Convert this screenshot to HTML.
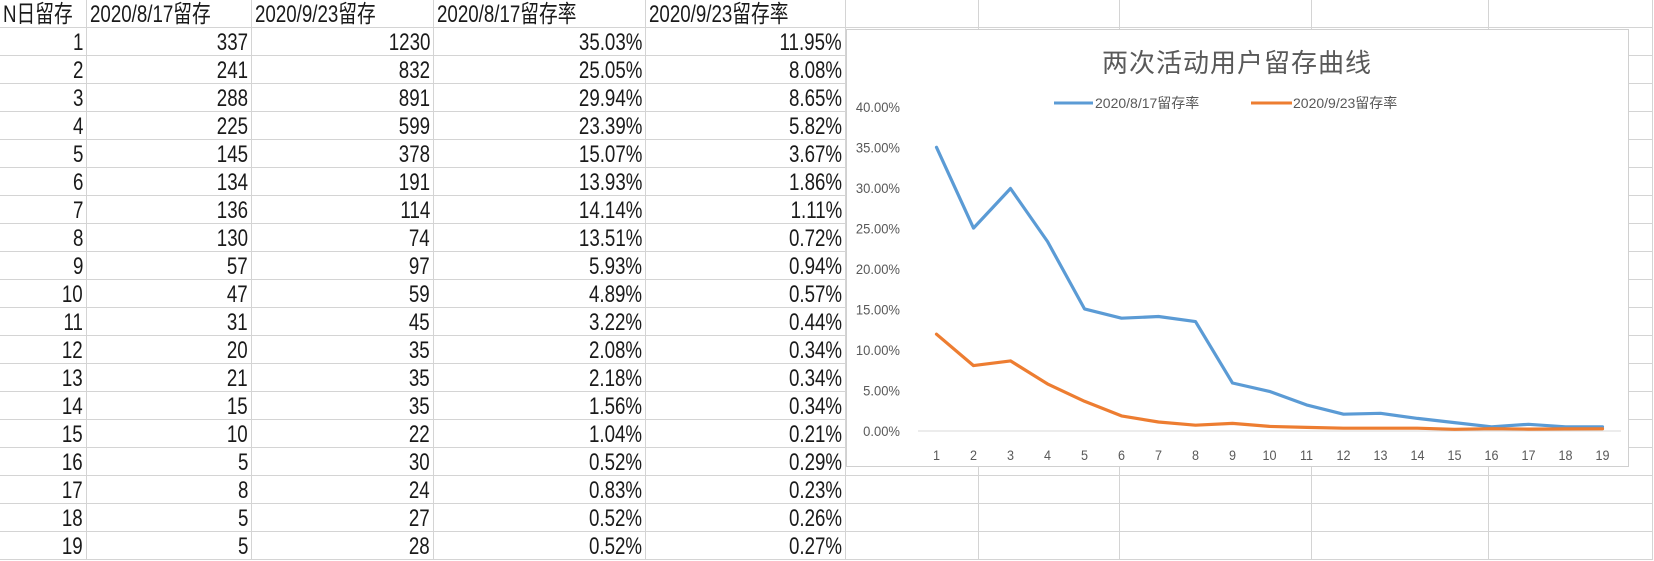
<!DOCTYPE html>
<html><head><meta charset="utf-8">
<style>
html,body{margin:0;padding:0;background:#fff;}
body{width:1654px;height:561px;position:relative;overflow:hidden;font-family:"Liberation Sans","Noto Sans CJK SC",sans-serif;}
.cell{position:absolute;height:28px;box-sizing:border-box;border-right:1px solid #d4d4d4;border-bottom:1px solid #d4d4d4;overflow:visible;white-space:nowrap;}
.cell span{position:absolute;top:1px;font-size:24px;line-height:28px;color:#1a1a1a;transform:scaleX(0.78);}
.cell span.r{right:3px;transform-origin:right center;}
.cell span.l{left:3px;transform-origin:left center;}
#chart{position:absolute;left:846px;top:29px;width:783px;height:438px;background:#fff;border:1px solid #d0d0d0;box-sizing:border-box;}
</style></head>
<body>
<div id="grid"></div>
<div id="chart">
<svg id="svg" width="783" height="438" xmlns="http://www.w3.org/2000/svg"></svg>
</div>
<script>
const days = [1,2,3,4,5,6,7,8,9,10,11,12,13,14,15,16,17,18,19];
const countA = [337,241,288,225,145,134,136,130,57,47,31,20,21,15,10,5,8,5,5];
const countB = [1230,832,891,599,378,191,114,74,97,59,45,35,35,35,22,30,24,27,28];
const rateA = [35.03,25.05,29.94,23.39,15.07,13.93,14.14,13.51,5.93,4.89,3.22,2.08,2.18,1.56,1.04,0.52,0.83,0.52,0.52];
const rateB = [11.95,8.08,8.65,5.82,3.67,1.86,1.11,0.72,0.94,0.57,0.44,0.34,0.34,0.34,0.21,0.29,0.23,0.26,0.27];
const yTicks = [0,5,10,15,20,25,30,35,40];
const headers = ["N日留存","2020/8/17留存","2020/9/23留存","2020/8/17留存率","2020/9/23留存率"];

const colX = [0,87,252,434,646,846,979,1120,1312,1489,1653];
const grid = document.getElementById('grid');
function mkCell(c, r, txt, align){
  const d = document.createElement('div');
  d.className = 'cell';
  d.style.left = colX[c] + 'px';
  d.style.top = (r*28) + 'px';
  d.style.width = (colX[c+1]-colX[c]) + 'px';
  
  
  if (txt !== '') {
    const s = document.createElement('span');
    s.className = align;
    s.textContent = txt;
    d.appendChild(s);
  }
  grid.appendChild(d);
}
for (let r = 0; r < 20; r++) {
  for (let c = 0; c < 10; c++) {
    let txt = '', al = 'r';
    if (r === 0 && c < 5) { txt = headers[c]; al = 'l'; }
    else if (r > 0) {
      const i = r - 1;
      if (c === 0) txt = String(days[i]);
      else if (c === 1) txt = String(countA[i]);
      else if (c === 2) txt = String(countB[i]);
      else if (c === 3) txt = rateA[i].toFixed(2) + '%';
      else if (c === 4) txt = rateB[i].toFixed(2) + '%';
    }
    mkCell(c, r, txt, al);
  }
}

const svg = document.getElementById('svg');
const NS = 'http://www.w3.org/2000/svg';
const OX = 846, OY = 29;
const plotL = 917-OX, plotR = 1620-OX;
const y0 = 430-OY, yTop = 106-OY;
function yScale(v){ return y0 - (v/40)*(y0-yTop); }
function xScale(i){ const step=(plotR-plotL)/days.length; return plotL + step*(i+0.5); }
function el(tag, attrs){ const e=document.createElementNS(NS,tag); for(const k in attrs) e.setAttribute(k,attrs[k]); svg.appendChild(e); return e; }

const title = el('text',{x:1236-OX,y:71-OY,'text-anchor':'middle','font-size':'26','fill':'#595959','letter-spacing':'1','font-family':'"Liberation Sans","Noto Sans CJK SC",sans-serif'});
title.textContent = '两次活动用户留存曲线';



const lgA = el('line',{x1:1053-OX,y1:102-OY,x2:1092-OX,y2:102-OY,stroke:'#5b9bd5','stroke-width':3});


const lgAt = el('text',{x:1094-OX,y:107-OY,'font-size':'14','fill':'#595959','font-family':'"Liberation Sans","Noto Sans CJK SC",sans-serif'});
lgAt.textContent='2020/8/17留存率';


const lgB = el('line',{x1:1250-OX,y1:102-OY,x2:1291-OX,y2:102-OY,stroke:'#ed7d31','stroke-width':3});


const lgBt = el('text',{x:1292-OX,y:107-OY,'font-size':'14','fill':'#595959','font-family':'"Liberation Sans","Noto Sans CJK SC",sans-serif'});
lgBt.textContent='2020/9/23留存率';



yTicks.forEach(v=>{
  const t = el('text',{x:0,y:0,'font-size':'14','fill':'#595959','text-anchor':'end','transform':'translate('+(899-OX)+','+(yScale(v)+5)+') scale(0.93,1)'});
  t.textContent = v.toFixed(2)+'%';
  
  
});
const ax = el('line',{x1:plotL,y1:y0,x2:plotR,y2:y0,stroke:'#d9d9d9','stroke-width':1});


days.forEach((d,i)=>{
  const t = el('text',{x:0,y:0,'font-size':'14','fill':'#595959','text-anchor':'middle','transform':'translate('+xScale(i)+','+(459-OY)+') scale(0.9,1)'});
  t.textContent = String(d);
  
  
});
function series(vals,color,name){
  const pts = vals.map((v,i)=>xScale(i).toFixed(1)+','+yScale(v).toFixed(1)).join(' ');
  const p = el('polyline',{points:pts,fill:'none',stroke:color,'stroke-width':3.2,'stroke-linejoin':'round','stroke-linecap':'round'});
  
  
}
series(rateA,'#5b9bd5','line-0817-rate');
series(rateB,'#ed7d31','line-0923-rate');
</script>
</body></html>
